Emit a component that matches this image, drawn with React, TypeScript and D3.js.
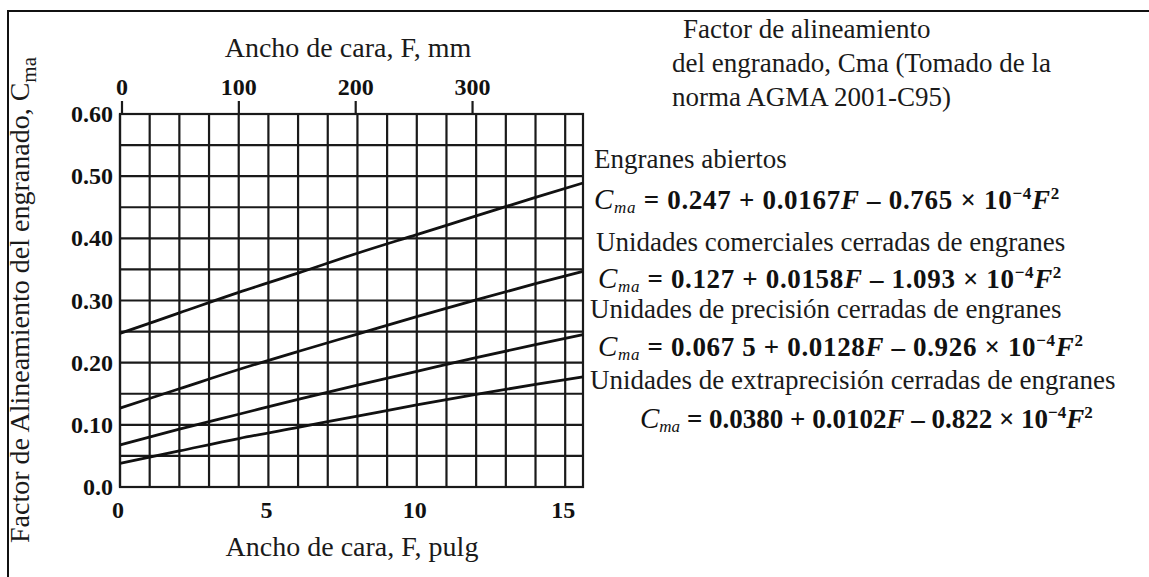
import React from "react";
import * as d3 from "d3";

// Face width F (in) at which values are read
const faceWidthIn = [0, 2, 4, 6, 8, 10, 12, 14, 15.6];
const openGearing = [0.247, 0.280, 0.313, 0.344, 0.376, 0.406, 0.436, 0.466, 0.489];
const commercialEnclosed = [0.127, 0.158, 0.189, 0.218, 0.246, 0.274, 0.301, 0.327, 0.347];
const precisionEnclosed = [0.0675, 0.093, 0.117, 0.141, 0.164, 0.186, 0.208, 0.229, 0.245];
const extraPrecisionEnclosed = [0.038, 0.058, 0.078, 0.096, 0.114, 0.132, 0.149, 0.165, 0.177];

const bottomTicks = [0, 5, 10, 15];
const topTicksMm = [0, 100, 200, 300];
const yTicks = [0.6, 0.5, 0.4, 0.3, 0.2, 0.1, 0.0];
const yTickLabels = ["0.60", "0.50", "0.40", "0.30", "0.20", "0.10", "0.0"];

const titleLines = [
  "Factor de alineamiento",
  "del engranado, Cma (Tomado de la",
  "norma AGMA 2001-C95)",
];
const curveNames = [
  "Engranes abiertos",
  "Unidades comerciales cerradas de engranes",
  "Unidades de precisión cerradas de engranes",
  "Unidades de extraprecisión cerradas de engranes",
];
const eqA = ["0.247", "0.127", "0.067 5", "0.0380"];
const eqB = ["0.0167", "0.0158", "0.0128", "0.0102"];
const eqC = ["0.765", "1.093", "0.926", "0.822"];

const W = 1149;
const H = 577;
const plot = { left: 120, right: 583, top: 114, bottom: 487 };
const serif = "'Liberation Serif', 'Times New Roman', serif";

export default function App() {
  const x = d3.scaleLinear().domain([0, 15.6]).range([plot.left, plot.right]);
  const xmm = d3.scaleLinear().domain([0, 15.6 * 25.4]).range([plot.left + 2, plot.right + 2]);
  const y = d3.scaleLinear().domain([0, 0.6]).range([plot.bottom, plot.top]);

  const vLines = d3.range(0, 16);
  const hLines = d3.range(0, 13).map((i) => i * 0.05);
  const line = d3
    .line<number>()
    .x((_, i) => x(faceWidthIn[i]))
    .y((v) => y(v))
    .curve(d3.curveMonotoneX);
  const series = [openGearing, commercialEnclosed, precisionEnclosed, extraPrecisionEnclosed];

  const nameX = [594, 596, 590, 590];
  const nameY = [168, 251, 318, 389];
  const eqX = [594, 598, 598, 640];
  const eqY = [209, 288, 356, 428];
  const eqSpacing = [0.7, 0.65, 0.65, 0];

  return (
    <svg
      width={W}
      height={H}
      style={{ position: "absolute", left: 0, top: 0, background: "#fff" }}
      fontFamily={serif}
    >
      <rect x={0} y={0} width={W} height={H} fill="#fff" />
      <path d={`M8,${H} L8,11 L${W},11`} fill="none" stroke="#111" strokeWidth={2} />

      {/* grid */}
      <g stroke="#1a1a1a" strokeWidth={2.2}>
        {vLines.map((v) => (
          <line key={"v" + v} x1={x(v)} x2={x(v)} y1={y(0.6)} y2={y(0)} />
        ))}
        {hLines.map((h) => (
          <line key={"h" + h} x1={x(0)} x2={x(15.6)} y1={y(h)} y2={y(h)} />
        ))}
        <rect
          x={x(0)}
          y={y(0.6)}
          width={x(15.6) - x(0)}
          height={y(0) - y(0.6)}
          fill="none"
        />
        {topTicksMm.map((t) => (
          <line key={"tt" + t} x1={xmm(t)} x2={xmm(t)} y1={y(0.6)} y2={y(0.6) - 13} />
        ))}
      </g>

      {/* curves */}
      <g fill="none" stroke="#111" strokeWidth={2.8}>
        {series.map((s, i) => (
          <path key={i} d={line(s) || ""} />
        ))}
      </g>

      {/* tick labels */}
      <g fontWeight="bold" fontSize={24} fill="#111">
        {yTicks.map((t, i) => (
          <text key={"y" + i} x={plot.left - 7} y={y(t) + 8} textAnchor="end">
            {yTickLabels[i]}
          </text>
        ))}
        {bottomTicks.map((t) => (
          <text key={"b" + t} x={x(t) - 2} y={518} textAnchor="middle">
            {t}
          </text>
        ))}
        {topTicksMm.map((t) => (
          <text key={"t" + t} x={xmm(t)} y={95} textAnchor="middle">
            {t}
          </text>
        ))}
      </g>

      {/* axis titles */}
      <g fontSize={28} fill="#1a1a1a">
        <text x={348} y={57} textAnchor="middle">
          Ancho de cara, F, mm
        </text>
        <text x={352} y={556} textAnchor="middle">
          Ancho de cara, F, pulg
        </text>
        <text transform="translate(29,300) rotate(-90)" textAnchor="middle">
          Factor de Alineamiento del engranado, C
          <tspan fontSize={21} dy={7}>ma</tspan>
        </text>
      </g>

      {/* title block */}
      <g fontSize={27} fill="#1a1a1a">
        <text x={683} y={38}>{titleLines[0]}</text>
        <text x={672} y={72}>{titleLines[1]}</text>
        <text x={672} y={106}>{titleLines[2]}</text>
      </g>

      {/* curve labels and equations */}
      <g fill="#111">
        {curveNames.map((n, i) => (
          <text key={"n" + i} x={nameX[i]} y={nameY[i]} fontSize={27} fill="#1a1a1a">
            {n}
          </text>
        ))}
        {eqA.map((a, i) => (
          <text
            key={"e" + i}
            x={eqX[i]}
            y={eqY[i]}
            fontSize={27}
            fontWeight="bold"
            letterSpacing={eqSpacing[i]}
          >
            <tspan fontStyle="italic" fontWeight="normal" fontSize={29}>C</tspan>
            <tspan fontStyle="italic" fontWeight="normal" fontSize={17} dy={4}>ma</tspan>
            <tspan dy={-4}>{` = ${a} + ${eqB[i]}`}</tspan>
            <tspan fontStyle="italic">F</tspan>
            <tspan>{` – ${eqC[i]} × 10`}</tspan>
            <tspan fontSize={17} dy={-10}>−4</tspan>
            <tspan fontStyle="italic" dy={10}>F</tspan>
            <tspan fontSize={17} dy={-10}>2</tspan>
          </text>
        ))}
      </g>
    </svg>
  );
}
